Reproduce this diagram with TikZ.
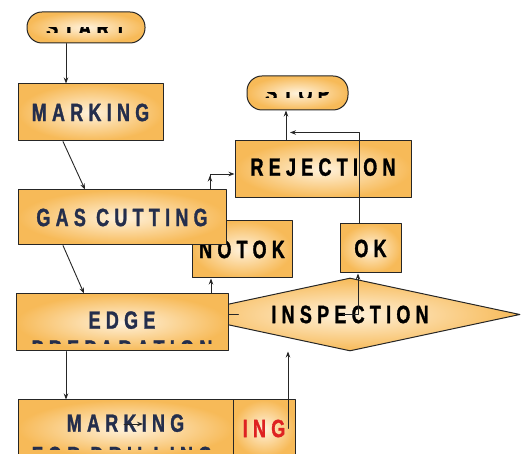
\documentclass[tikz,border=0pt]{standalone}
\usepackage{fontspec}
\newfontfamily\flowfont[FakeStretch=0.72,FakeBold=1.2,LetterSpace=21]{Liberation Sans}
\usetikzlibrary{shapes.geometric,arrows.meta}
\definecolor{boxorange}{RGB}{247,186,88}
\definecolor{boxlight}{RGB}{255,242,220}
\definecolor{navytext}{RGB}{36,46,76}
\definecolor{redtext}{RGB}{222,34,34}
\begin{document}
\begin{tikzpicture}[x=1pt, y=1pt, line join=round, line cap=round, >={Stealth[length=6pt,width=4.5pt]},
	box/.style={draw=black!85, line width=1pt, inner color=boxlight, outer color=boxorange, inner sep=0pt, font=\flowfont\bfseries\fontsize{25}{25}\selectfont},
	pill/.style={box, rounded corners=15pt},
	txt/.style={inner sep=0pt, font=\flowfont\bfseries\fontsize{25}{25}\selectfont},
	conn/.style={draw=black!85, line width=0.9pt}]
	\clip (0,0) rectangle (522,454);
	% boxes, the hidden ones first
	\node[box, minimum width=100pt, minimum height=57pt] (notok) at (242,204.5) {NOTOK};
	\node[box, diamond, aspect=4.6, minimum width=340pt, minimum height=73pt] (insp) at (350,139.5) {INSPECTION};
	\node[pill, minimum width=118pt, minimum height=31pt] (start) at (86,426.5) {};
	\node[pill, minimum width=101pt, minimum height=34pt] (stop) at (297.5,361) {};
	\node[box, text=navytext, minimum width=145pt, minimum height=57pt] (mark1) at (90.5,341.5) {MARKING};
	\node[box, text=navytext, minimum width=208pt, minimum height=55pt] (gas) at (122,236.5) {GAS CUTTING};
	\node[box, text depth=5pt, minimum width=176pt, minimum height=57pt] (rej) at (323,284.5) {REJECTION};
	\node[box, minimum width=61pt, minimum height=49pt] (ok) at (370.5,205.5) {OK};
	\node[box, text=navytext, text depth=5pt, minimum width=212pt, minimum height=57pt] (edge) at (122,131.5) {EDGE};
	\node[box, text=navytext, text depth=11pt, minimum width=215pt, minimum height=57pt] (mark2) at (125.5,25.5) {MARKING};
	\node[box, text=redtext, minimum width=62pt, minimum height=57pt] (ing) at (264,25.5) {ING};
	% cut texts
	\begin{scope}
		\clip (27,421) rectangle (145,426);
		\node[txt] (starttxt) at (start) {START};
	\end{scope}
	\begin{scope}
		\clip (247,356) rectangle (348,361);
		\node[txt] (stoptxt) at (stop) {STOP};
	\end{scope}
	\begin{scope}
		\clip (16,110.5) rectangle (228,114);
		\node[txt, text=navytext, anchor=north] (preptxt) at (122,114) {PREPARATION};
	\end{scope}
	\begin{scope}
		\clip (18,4) rectangle (233,7.5);
		\node[txt, text=navytext, anchor=north] (drilltxt) at (122,7.5) {FOR DRILLING};
	\end{scope}
	% connectors
	\draw[conn,->] ([xshift=-20pt]start.south) -- ([xshift=-20pt]start.south |- mark1.north);
	\draw[conn,->] ([xshift=-27.5pt]mark1.south) -- ([xshift=-37pt]gas.north);
	\draw[conn,->] ([xshift=-59pt]gas.south) -- ([xshift=-38pt]edge.north);
	\draw[conn,->] ([xshift=-56pt]edge.south) -- ([xshift=-56pt]edge.south |- mark2.north);
	\draw[conn,->] ([xshift=88pt]gas.north) -- ++(0,14);
	\draw[conn,->] ([xshift=88pt]gas.north) |- ([yshift=-4.5pt]rej.west);
	\draw[conn,->] ([xshift=-37pt]rej.north) -- ([xshift=-37pt]rej.north |- stop.south);
	\draw[conn,->] ([xshift=-11.5pt]ok.north) |- ([xshift=-7.5pt,yshift=-22pt]stop.south);
	\draw[conn,->] ([xshift=-7pt]insp.center) -| ([xshift=-12.5pt]ok.south);
	\draw[conn,->] ([xshift=89pt]edge.north) -- ([xshift=89pt]edge.north |- notok.south);
	\draw[conn] ([yshift=8.5pt]edge.east) -- ++(10,0);
	\draw[conn,->] ([xshift=24pt]ing.center) -- ([xshift=24pt]ing.center |- insp.south);
	\draw[conn,->] ([xshift=-1.5pt,yshift=4.5pt]mark2.center) -- ++(19,0);
\end{tikzpicture}
\end{document}
